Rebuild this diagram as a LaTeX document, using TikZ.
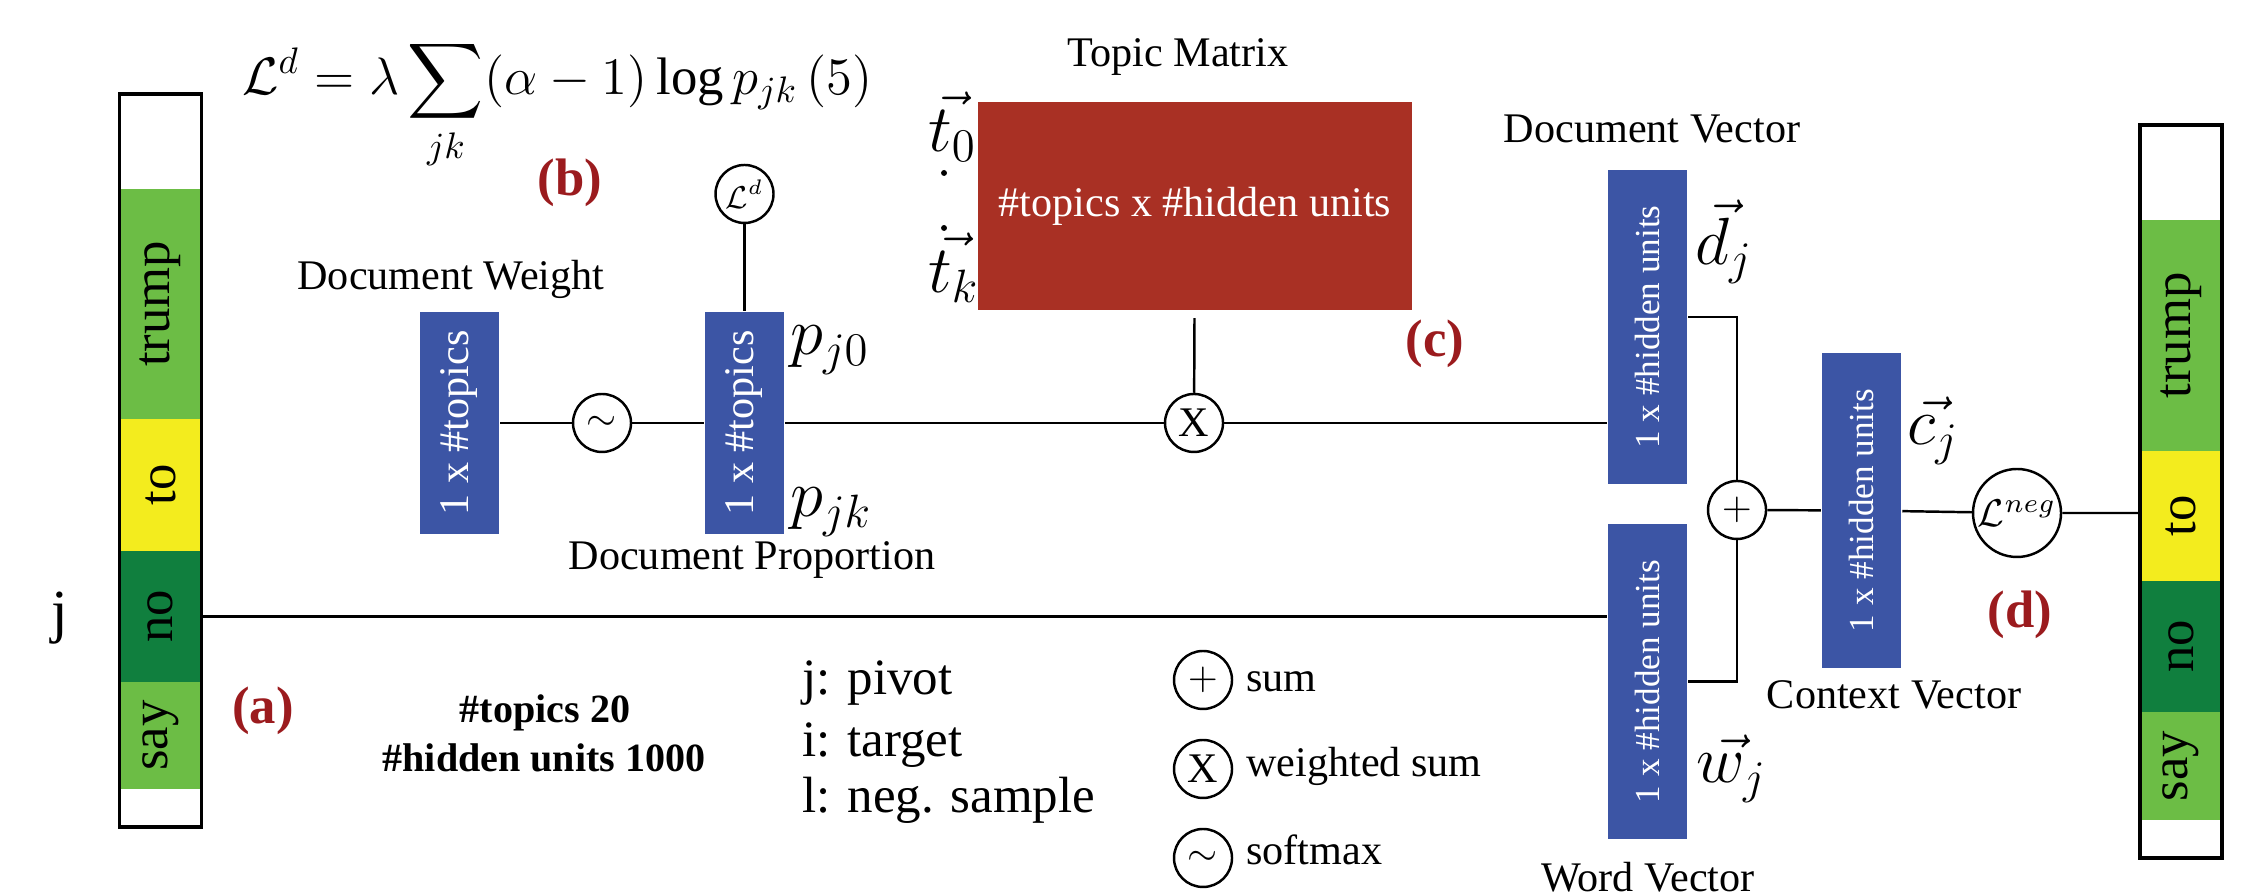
\RequirePackage{fix-cm}
\documentclass[tikz,border=0pt]{standalone}
\usepackage{fontspec}
\setmainfont{Liberation Serif}
\DeclareFontFamily{OMX}{cmex}{}
\DeclareFontShape{OMX}{cmex}{m}{n}{<->cmex10}{}
\usetikzlibrary{positioning,calc}
\definecolor{boxblue}{RGB}{60,85,165}
\definecolor{matred}{RGB}{169,48,36}
\definecolor{tagred}{RGB}{155,27,30}
\definecolor{lightgr}{RGB}{108,189,69}
\definecolor{darkgr}{RGB}{16,127,62}
\definecolor{wordyel}{RGB}{243,236,30}

\begin{document}
\begin{tikzpicture}[line width=0.7pt,
vbox/.style = {fill=boxblue, text=white, rotate=90, minimum height=0.79cm, inner sep=0pt},
seg/.style = {rotate=90, minimum height=0.82cm, inner sep=0pt, font=\fontsize{15}{18}\selectfont},
op/.style = {draw, circle, fill=white, minimum size=0.58cm, inner sep=0pt, font=\fontsize{11}{13}\selectfont},
tag/.style = {text=tagred, font=\fontsize{15}{18}\selectfont\bfseries},
lbl/.style = {anchor=base, font=\fontsize{12}{14}\selectfont},
mlab/.style = {anchor=base west, inner sep=0pt, font=\fontsize{19}{22}\selectfont},
key/.style = {anchor=base west, inner sep=0pt, font=\fontsize{14.5}{17}\selectfont},
]
\useasboundingbox (0,0) rectangle (22.67,8.96);

\node (ltrump) at (1.605,5.92) [seg, fill=lightgr, minimum width=2.30cm] {trump};
\node (lto) at (1.605,4.11) [seg, fill=wordyel, minimum width=1.32cm] {to};
\node (lno) at (1.605,2.795) [seg, fill=darkgr, minimum width=1.31cm] {no};
\node (lsay) at (1.605,1.605) [seg, fill=lightgr, minimum width=1.07cm] {say};
\node (lbar) at (1.605,4.355) [draw, line width=0.9pt, minimum width=0.82cm, minimum height=7.33cm] {};
\node (jlab) at (0.60,2.64) [anchor=base, font=\fontsize{17}{20}\selectfont] {j};

\node (rtrump) at (21.81,5.605) [seg, fill=lightgr, minimum width=2.31cm] {trump};
\node (rto) at (21.81,3.80) [seg, fill=wordyel, minimum width=1.30cm] {to};
\node (rno) at (21.81,2.495) [seg, fill=darkgr, minimum width=1.31cm] {no};
\node (rsay) at (21.81,1.30) [seg, fill=lightgr, minimum width=1.08cm] {say};
\node (rbar) at (21.81,4.045) [draw, line width=0.9pt, minimum width=0.82cm, minimum height=7.33cm] {};

\node (loss) at (2.41,8.01) [anchor=base west, inner sep=0pt, font=\fontsize{15}{18}\selectfont] {$\displaystyle\mathcal{L}^d=\lambda\sum_{jk}(\alpha-1)\log p_{jk}\,(5)$};

\node (dw) at (4.595,4.73) [vbox, minimum width=2.22cm, font=\fontsize{12}{14}\selectfont] {1 x \#topics};
\node (dp) at (7.445,4.73) [vbox, minimum width=2.22cm, font=\fontsize{12}{14}\selectfont] {1 x \#topics};
\node (dvec) at (16.475,5.69) [vbox, minimum width=3.14cm, font=\fontsize{10}{12}\selectfont] {1 x \#hidden units};
\node (wvec) at (16.475,2.145) [vbox, minimum width=3.15cm, font=\fontsize{10}{12}\selectfont] {1 x \#hidden units};
\node (ctx) at (18.615,3.855) [vbox, minimum width=3.15cm, font=\fontsize{10}{12}\selectfont] {1 x \#hidden units};
\node (tmat) at (11.95,6.90) [fill=matred, text=white, minimum width=4.34cm, minimum height=2.08cm, font=\fontsize{12}{14}\selectfont] {\#topics x \#hidden units};

\node (sm) at (6.02,4.73) [op] {$\sim$};
\node (wsum) at (11.94,4.73) [op, font=\fontsize{12}{14}\selectfont] {X};
\node (ld) at (7.445,7.02) [op, font=\fontsize{9}{10}\selectfont] {$\mathcal{L}^d$};
\node (plus) at (17.37,3.86) [op] {$+$};
\node (lneg) at (20.17,3.83) [op, minimum size=0.88cm] {$\mathcal{L}^{neg}$};

\draw (dw) -- (sm) -- (dp) -- (wsum) -- (dvec.north |- wsum);
\draw (ld) -- (dp);
\draw[shorten <=0.07cm] (tmat) -- (wsum);
\draw (lno.center -| lbar.east) -- (wvec.north |- lno.center);
\draw (dvec.south) ++(0,0.1) -| (plus);
\draw (wvec.south) -| (plus);
\draw (plus) -- (ctx);
\draw (ctx) -- (lneg) -- (lneg -| rbar.west);

\node (bb) at (5.70,7.13) [tag] {(b)};
\node (cc) at (14.35,5.52) [tag] {(c)};
\node (dd) at (20.20,2.81) [tag] {(d)};
\node (aa) at (2.63,1.85) [tag] {(a)};

\node (dwlab) at (4.51,6.06) [lbl] {Document Weight};
\node (dplab) at (7.52,3.26) [lbl] {Document Proportion};
\node (tmlab) at (11.78,8.29) [lbl] {Topic Matrix};
\node (dvlab) at (16.52,7.53) [lbl] {Document Vector};
\node (cvlab) at (18.94,1.87) [lbl] {Context Vector};
\node (wvlab) at (16.48,0.04) [lbl] {Word Vector};

\node (pjzero) at (7.89,5.41) [mlab] {$p_{j0}$};
\node (pjk) at (7.89,3.79) [mlab] {$p_{jk}$};
\node (tzero) at (9.27,7.44) [mlab] {$\vec{t_0}$};
\node (tk) at (9.27,6.03) [mlab] {$\vec{t_k}$};
\node (dotup) at (9.44,7.23) [circle, fill, inner sep=0.6pt] {};
\node (dotdown) at (9.44,6.68) [circle, fill, inner sep=0.6pt] {};
\node (dj) at (16.94,6.31) [mlab] {$\vec{d_j}$};
\node (cj) at (19.06,4.51) [mlab] {$\vec{c_j}$};
\node (wj) at (16.95,1.13) [mlab] {$\vec{w_j}$};

\node (ntopics) at (5.45,1.73) [anchor=base, font=\fontsize{11.4}{14}\selectfont\bfseries] {\#topics 20};
\node (nhidden) at (5.44,1.24) [anchor=base, font=\fontsize{11.4}{14}\selectfont\bfseries] {\#hidden units 1000};
\node (kpivot) at (8.01,2.01) [key] {j: pivot};
\node (ktarget) at (8.01,1.39) [key] {i: target};
\node (kneg) at (8.01,0.83) [key] {l: neg. sample};

\node (kplus) at (12.03,2.16) [op] {$+$};
\node (kx) at (12.03,1.27) [op, font=\fontsize{12}{14}\selectfont] {X};
\node (ksm) at (12.03,0.38) [op] {$\sim$};
\node (ksum) at (12.45,2.04) [lbl, anchor=base west, inner sep=0pt] {sum};
\node (kwsum) at (12.45,1.19) [lbl, anchor=base west, inner sep=0pt] {weighted sum};
\node (ksoft) at (12.45,0.31) [lbl, anchor=base west, inner sep=0pt] {softmax};
\end{tikzpicture}
\end{document}
